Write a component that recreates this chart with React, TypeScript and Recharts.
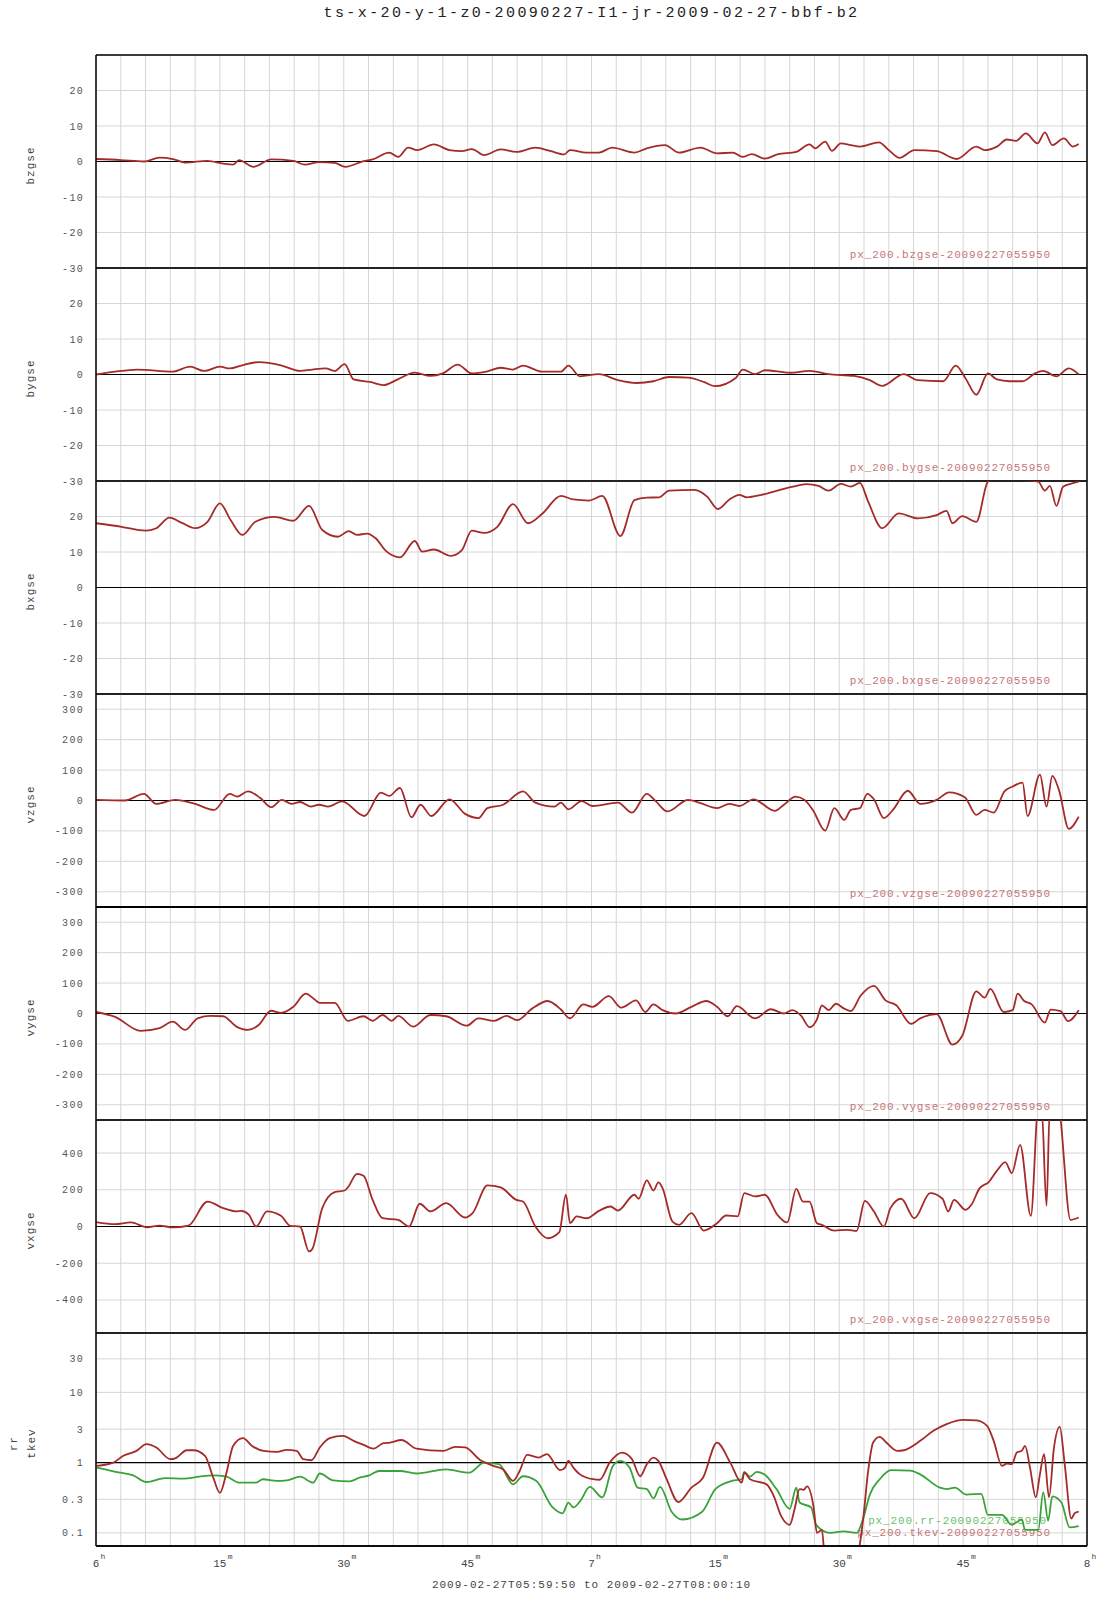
import React from 'react';
import { LineChart, Line, XAxis, YAxis, CartesianGrid, ReferenceLine } from 'recharts';

const MONO = '"Liberation Mono", "DejaVu Sans Mono", monospace';
const RED = '#a52a2a';
const GREEN = '#3aa23a';
const RED_TEXT = '#c47676';
const GREEN_TEXT = '#6cc06c';

const TITLE = 'ts-x-20-y-1-z0-20090227-I1-jr-2009-02-27-bbf-b2';
const CAPTION = '2009-02-27T05:59:50 to 2009-02-27T08:00:10';

// minutes after 06:00
const timeTicks = [0, 15, 30, 45, 60, 75, 90, 105, 120];
const timeTickLabels = ['6', '15', '30', '45', '7', '15', '30', '45', '8'];
const timeTickUnits = ['h', 'm', 'm', 'm', 'h', 'm', 'm', 'm', 'h'];
const gridMinutes = Array.from({ length: 41 }, (_, i) => i * 3);

const bTicks = [-30, -20, -10, 0, 10, 20];
const vTicks = [-300, -200, -100, 0, 100, 200, 300];
const vxTicks = [-400, -200, 0, 200, 400];
const logTicks = [0.1, 0.3, 1, 3, 10, 30];

const bzgse: [number, number][] = [
  [0, 0.7], [3, 0.4], [5.8, 0], [7.7, 1.1], [9.3, 0.7], [10.8, -0.3], [13.5, 0.2], [15.4, -0.6], [16.6, -0.9],
  [17.3, 0.4], [19.1, -1.5], [21.2, 0.6], [23.9, 0.2], [25.3, -0.9], [27, -0.2], [28.9, -0.4], [30.2, -1.5],
  [32.4, 0.1], [33.5, 0.6], [35.5, 2.5], [36.6, 1.3], [37.8, 3.9], [38.9, 3.2], [40.9, 4.8], [42.8, 3.2],
  [44.3, 2.9], [45.5, 3.5], [47, 1.8], [49, 3.4], [50.9, 2.7], [53.2, 3.9], [55.1, 2.9], [56.7, 2], [57.4, 3.2],
  [59.4, 2.5], [60.9, 2.5], [62.5, 3.9], [65.2, 2.5], [66.7, 3.7], [68.9, 4.6], [70.6, 2.5], [73.2, 3.9],
  [75.2, 2.3], [77.1, 2.5], [78.3, 1.3], [79.4, 2.1], [81, 0.8], [82.5, 2], [84.8, 2.7], [86.4, 4.8], [87.1, 3.7],
  [88.3, 5.6], [89.1, 3], [90.2, 5.1], [91.4, 4.6], [92.5, 4.2], [94.8, 5.4], [96, 3.2], [97.3, 1], [99.1, 3.2],
  [101.8, 2.9], [104.2, 0.7], [106.6, 4.2], [107.6, 3.2], [109.1, 4.2], [110.3, 6.2], [111.4, 5.8], [112.6, 7.9],
  [114, 5.1], [114.9, 8.2], [115.8, 4.6], [117.2, 6.5], [118.3, 4.2], [119, 4.9],
];

const bygse: [number, number][] = [
  [0, 0], [2.3, 0.8], [5, 1.4], [9.3, 0.8], [11.4, 2.2], [13.1, 1], [15, 2.2], [16.2, 1.7], [17.7, 2.6],
  [19.7, 3.5], [22.4, 2.6], [24.7, 1], [26.2, 1.4], [27.8, 1.7], [28.9, 1], [30.1, 2.9], [31.2, -1.4],
  [33.2, -2.1], [34.8, -3], [36.6, -1.3], [38.6, 0.5], [40.5, -0.4], [42, 0.3], [43.8, 2.8], [45.5, 0.3],
  [47.4, 0.9], [49, 1.9], [50.5, 1.4], [51.7, 2.5], [54, 0.8], [56.3, 0.8], [57.2, 2.5], [58.6, -0.5],
  [60.9, 0.1], [63.2, -1.6], [65.5, -2.4], [67.5, -1.9], [69.4, -0.7], [71.7, -0.9], [73.6, -2.1], [74.9, -3.3],
  [77.5, -0.9], [78.3, 1.4], [79.8, 0.1], [81, 1.2], [84, 0.5], [86.4, 1], [88.7, 0.1], [91.8, -0.4],
  [93.7, -1.6], [95.2, -3.2], [97.8, 0.1], [99.5, -1.6], [102.6, -1.9], [104.1, 2.5], [105.3, -1.1],
  [106.6, -5.7], [108, 0.3], [109.1, -1.4], [110.6, -1.9], [112.2, -1.9], [113.7, 0.3], [114.7, 1],
  [116.3, -0.5], [117.8, 1.7], [119, 0],
];

const bxgse: [number, number][] = [
  [0, 18.1], [3.1, 17.1], [6, 16], [7.3, 16.7], [8.9, 19.7], [10.4, 18.2], [12, 16.7], [13.5, 18.5], [15, 23.7],
  [16.3, 19], [17.7, 14.8], [19.3, 18.5], [21.6, 19.9], [23.9, 18.8], [25.8, 23], [27.4, 16.2], [29.3, 14.3],
  [30.6, 15.9], [31.6, 14.8], [32.8, 15.2], [33.9, 13.8], [35.1, 10.3], [36.8, 8.5], [38.6, 13.1], [39.5, 10.1],
  [40.9, 10.7], [43, 8.9], [44.3, 10.5], [45.5, 16], [47, 15.4], [48.6, 17.1], [50.5, 23.5], [52.3, 18.1],
  [54, 20.7], [56.3, 25.8], [57.8, 24.8], [59.7, 24.5], [61.3, 25.8], [63.5, 14.5], [65.2, 24.6], [66.7, 25.3],
  [68.2, 25.4], [69.4, 27.3], [72.5, 27.5], [74, 25.6], [75.3, 22.1], [76.7, 24.8], [77.9, 26.1], [78.8, 25.4],
  [80.6, 26.1], [82.5, 27.3], [84.4, 28.4], [86, 29.1], [87.5, 28.6], [88.7, 27.3], [90.2, 29.2], [91.4, 28.4],
  [92.5, 29.5], [93.5, 24.2], [95.2, 16.7], [97.2, 20.9], [99.5, 19.5], [101.8, 20.4], [103, 21.6],
  [103.7, 18.1], [104.9, 20.1], [106.6, 18.5], [108, 29.8], [108.7, 30.5], [112.6, 30.2], [114.1, 29.8],
  [114.9, 27.3], [115.5, 28.6], [116.3, 23], [117.1, 28.4], [118.3, 29.4], [119, 29.8],
];

const vzgse: [number, number][] = [
  [0, 2], [3.5, 0], [5.8, 22], [7.3, -11], [9.6, 2], [12, -11], [14.3, -31], [16.2, 22], [17.1, 13], [18.4, 30],
  [19.9, 8], [21.2, -22], [22.5, 2], [23.7, -11], [24.7, -5], [26, -20], [27, -14], [28.1, -20], [29.8, -3],
  [32.5, -51], [34.5, 26], [35.5, 15], [36.8, 41], [38.2, -55], [39.3, -14], [40.6, -51], [42.8, 4], [44.7, -44],
  [46.3, -58], [47.4, -25], [49.3, -14], [51.7, 30], [53.2, -7], [55.5, -20], [56.3, -7], [57.2, -29], [58.8, -2],
  [60.1, -18], [63.2, -7], [64.9, -40], [66.7, 22], [67.8, -3], [69.2, -36], [71.7, 2], [73.2, -9], [75.2, -25],
  [76.7, -11], [77.9, -18], [79.6, 4], [82.2, -34], [83.3, -14], [84.7, 13], [85.8, 2], [86.8, -31], [88.3, -99],
  [89.4, -25], [90.6, -64], [91.4, -31], [92.5, -25], [93.4, 22], [94.2, 4], [95.4, -58], [96.5, -31],
  [98.3, 32], [99.8, -11], [101.8, 2], [103.3, 27], [105.2, 11], [106.6, -47], [107.6, -31], [108.7, -40],
  [110, 30], [111, 46], [112.2, 59], [112.8, -51], [114.3, 85], [115.1, -20], [115.8, 81], [116.6, 35],
  [117.8, -93], [119, -53],
];

const vygse: [number, number][] = [
  [0, 5], [2.3, -11], [5.4, -57], [7.7, -48], [9.3, -27], [10.8, -54], [12.3, -16], [13.9, -8], [15.4, -9],
  [17, -43], [18.4, -54], [19.7, -38], [21.2, 9], [22.4, 2], [23.9, 22], [25.4, 65], [26.4, 48], [27.1, 35],
  [28.9, 35], [30.5, -24], [32.4, -9], [33.5, -24], [34.7, -5], [35.8, -24], [36.6, -8], [38.4, -43], [40.5, -5],
  [42.4, -9], [44.9, -40], [46.3, -16], [48.2, -24], [49.7, -8], [51, -22], [52.8, 16], [54.7, 41], [56.3, 13],
  [57.4, -16], [59, 30], [60.1, 22], [62.1, 57], [63.6, 19], [65.4, 43], [66.5, 5], [67.5, 30], [68.6, 11],
  [70.2, 0], [72.1, 22], [73.9, 41], [75.2, 22], [76.5, -9], [77.6, 24], [79.8, -16], [81.7, 14], [83.3, 0],
  [84.3, 11], [85.4, -8], [86.4, -45], [87.3, -19], [87.9, 27], [88.7, 11], [89.6, 32], [90.6, 16], [91.4, 8],
  [92.6, 59], [94.2, 91], [95.6, 43], [96.9, 27], [98.7, -34], [99.8, -16], [101.8, -2], [103.7, -102],
  [104.9, -73], [106.6, 73], [107.6, 52], [108.3, 81], [109.9, 5], [111, 11], [111.6, 65], [112.4, 41],
  [113.3, 30], [114.9, -30], [115.6, 13], [116.8, 8], [117.7, -25], [119, 11],
];

const vxgse: [number, number][] = [
  [0, 24], [2.3, 13], [4.2, 22], [6.2, -4], [7.7, 5], [9.3, -5], [11.2, 5], [13.5, 136], [15.4, 100], [17, 82],
  [17.6, 85], [18.5, 64], [19.4, 0], [20.7, 82], [22.4, 58], [23.5, 4], [24.7, 0], [25.8, -136], [26.2, -122],
  [27.4, 100], [28.9, 187], [30.1, 196], [30.5, 213], [31.6, 287], [32.4, 276], [33.5, 145], [34.7, 45],
  [36.6, 36], [37.9, 0], [39.2, 124], [40.5, 82], [42.4, 127], [44.7, 49], [45.6, 73], [47.4, 224], [49, 213],
  [50.9, 145], [51.7, 136], [53.2, 0], [54.7, -64], [56.1, -31], [56.9, 173], [57.4, 18], [58.2, 55],
  [59.4, 45], [60.9, 85], [62.3, 109], [63.2, 87], [65.2, 173], [65.7, 151], [66.7, 251], [67.5, 196],
  [68.1, 240], [68.6, 209], [69.8, 27], [70.6, 9], [72.1, 73], [73.6, -22], [75.2, 18], [76.3, 60], [77.7, 55],
  [78.5, 182], [79.8, 164], [81, 173], [82.5, 64], [83.7, 22], [84.8, 205], [85.6, 136], [86.4, 136],
  [87.3, 18], [87.9, 9], [89.4, -22], [91, -18], [92.1, -24], [93.1, 140], [94.2, 82], [95.4, 0], [96.2, 100],
  [97.5, 151], [99.1, 45], [101, 182], [102.5, 151], [103.2, 82], [103.9, 145], [105.3, 91], [106, 118],
  [107, 209], [108.1, 242], [109.1, 304], [110.1, 351], [110.9, 291], [111.9, 445], [113.2, 58], [114.1, 650],
  [114.5, 650], [115.1, 113], [115.5, 650], [116.5, 650], [118, 36], [119, 49],
];

const rr: [number, number][] = [
  [0.1, 0.85], [2.9, 0.72], [4.5, 0.66], [6.1, 0.53], [8.4, 0.6], [10.5, 0.59], [12.5, 0.63], [14.1, 0.66],
  [15.8, 0.63], [17.3, 0.52], [19.4, 0.52], [20.2, 0.58], [21.9, 0.55], [23.1, 0.56], [24.7, 0.63], [26.3, 0.52],
  [27.1, 0.7], [28.7, 0.56], [30.7, 0.54], [31.9, 0.61], [33.1, 0.66], [34.3, 0.76], [36.8, 0.76], [38.8, 0.7],
  [42.4, 0.8], [45.2, 0.72], [47, 1.0], [48.8, 0.95], [50.5, 0.49], [51.7, 0.64], [53.3, 0.55], [55.3, 0.23],
  [56.5, 0.19], [57.2, 0.27], [57.8, 0.23], [58.6, 0.28], [59.8, 0.45], [61.3, 0.32], [62.6, 0.9], [63.5, 1.06],
  [64.6, 0.85], [65.6, 0.44], [66.7, 0.42], [67.5, 0.31], [68.3, 0.45], [69.7, 0.2], [71, 0.155], [73.4, 0.2],
  [75, 0.42], [77, 0.55], [78.2, 0.58], [78.5, 0.74], [79.2, 0.63], [80, 0.74], [81, 0.67], [82.4, 0.42],
  [84, 0.22], [84.8, 0.44], [85.2, 0.27], [86.6, 0.23], [87.2, 0.13], [88.9, 0.1], [90.5, 0.105], [92.1, 0.1],
  [92.9, 0.16], [93.7, 0.35], [94.9, 0.58], [96.3, 0.78], [98.6, 0.77], [99.8, 0.68], [102.2, 0.44], [103, 0.42],
  [104, 0.44], [105.4, 0.35], [107.2, 0.36], [108, 0.18], [109.7, 0.18], [110.9, 0.13], [112.1, 0.155],
  [112.5, 0.11], [114.1, 0.11], [114.7, 0.38], [115.3, 0.15], [115.8, 0.33], [116.9, 0.27], [117.9, 0.12],
  [119, 0.125],
];

const tkev: [number, number][] = [
  [0.1, 0.9], [2.1, 1.0], [3.3, 1.25], [4.9, 1.47], [6.1, 1.83], [7.3, 1.64], [9, 1.12], [9.6, 1.15], [11, 1.5],
  [11.8, 1.5], [13.2, 1.25], [14.2, 0.61], [15, 0.37], [15.8, 0.72], [16.6, 1.73], [17.8, 2.23], [18.9, 1.73],
  [20.3, 1.47], [21.9, 1.42], [23.1, 1.52], [24.3, 1.47], [25.1, 1.12], [26.1, 1.08], [27.1, 1.64], [28.3, 2.23],
  [29.9, 2.4], [31.2, 2.04], [32.4, 1.79], [33.6, 1.58], [34.8, 1.89], [35.6, 1.93], [37, 2.1], [38.8, 1.58],
  [42.1, 1.47], [43.5, 1.68], [44.7, 1.65], [46.5, 1.09], [48.1, 0.9], [49.3, 0.8], [50.5, 0.55], [51.3, 0.76],
  [52.2, 1.29], [53.6, 1.18], [54.6, 1.32], [56.2, 0.78], [56.8, 0.85], [57.2, 1.06], [57.8, 0.85], [58.6, 0.68],
  [60.2, 0.58], [61, 0.57], [62.2, 1.0], [63.7, 1.39], [64.9, 1.12], [65.9, 0.64], [66.7, 0.95], [67.5, 1.18],
  [68.1, 1.06], [69.1, 0.58], [70.5, 0.275], [72.1, 0.44], [73.5, 0.61], [75.2, 1.93], [76.8, 1.0], [78.2, 0.52],
  [78.5, 0.72], [79.2, 0.58], [81.2, 0.49], [82, 0.35], [83, 0.17], [84, 0.13], [84.6, 0.22], [85.2, 0.42],
  [85.7, 0.41], [86.1, 0.46], [86.9, 0.23], [87.3, 0.1], [87.9, 0.11], [88.3, 0.04], [92, 0.04], [92.9, 0.16],
  [93.5, 0.76], [94.1, 1.93], [94.9, 2.33], [95.7, 1.93], [97, 1.47], [97.8, 1.5], [99.8, 2.04], [101.4, 2.84],
  [103, 3.54], [105, 4.07], [106.6, 4.0], [107.9, 3.34], [108.7, 2.04], [109.7, 0.9], [110.3, 0.97],
  [110.9, 0.95], [111.5, 1.39], [112.1, 1.47], [112.5, 1.73], [113.1, 0.85], [113.8, 0.32], [114.3, 0.68],
  [114.8, 1.32], [115.4, 0.32], [116, 1.64], [116.7, 3.23], [117.3, 0.95], [118.1, 0.16], [118.5, 0.19],
  [119, 0.2],
];

const PANEL_TOP = 55;
const PANEL_H = 213;
const PAD = 12;
const WIDTH = 1107;
const AXIS_W = 96;
const RIGHT = 20;
const XAXIS_H = 46;

type Series = { name: string; data: [number, number][]; color: string; textColor: string };
type PanelDef = {
  axis: string[];
  domain: [number, number];
  ticks: number[];
  zero: number;
  log?: boolean;
  series: Series[];
};

const src = (name: string) => `px_200.${name}-20090227055950`;

const panels: PanelDef[] = [
  { axis: ['bzgse'], domain: [-30, 30], ticks: bTicks, zero: 0, series: [{ name: src('bzgse'), data: bzgse, color: RED, textColor: RED_TEXT }] },
  { axis: ['bygse'], domain: [-30, 30], ticks: bTicks, zero: 0, series: [{ name: src('bygse'), data: bygse, color: RED, textColor: RED_TEXT }] },
  { axis: ['bxgse'], domain: [-30, 30], ticks: bTicks, zero: 0, series: [{ name: src('bxgse'), data: bxgse, color: RED, textColor: RED_TEXT }] },
  { axis: ['vzgse'], domain: [-350, 350], ticks: vTicks, zero: 0, series: [{ name: src('vzgse'), data: vzgse, color: RED, textColor: RED_TEXT }] },
  { axis: ['vygse'], domain: [-350, 350], ticks: vTicks, zero: 0, series: [{ name: src('vygse'), data: vygse, color: RED, textColor: RED_TEXT }] },
  { axis: ['vxgse'], domain: [-580, 580], ticks: vxTicks, zero: 0, series: [{ name: src('vxgse'), data: vxgse, color: RED, textColor: RED_TEXT }] },
  {
    axis: ['rr', 'tkev'],
    domain: [0.065, 70],
    ticks: logTicks,
    zero: 1,
    log: true,
    series: [
      { name: src('rr'), data: rr, color: GREEN, textColor: GREEN_TEXT },
      { name: src('tkev'), data: tkev, color: RED, textColor: RED_TEXT },
    ],
  },
];

const toPoints = (arr: [number, number][]) => arr.map(([t, v]) => ({ t, v }));

const YTick = (props: any) => {
  const { x, y, payload } = props;
  return (
    <text x={x} y={y} dy={3.5} textAnchor="end" fontFamily={MONO} fontSize={10} fill="#555" style={{ letterSpacing: '1.3px' }}>
      {payload.value}
    </text>
  );
};

const TimeTick = (props: any) => {
  const { x, y, payload } = props;
  const i = timeTicks.indexOf(payload.value);
  if (i < 0) return null;
  const label = timeTickLabels[i];
  return (
    <g>
      <text x={x} y={y + 19} textAnchor="middle" fontFamily={MONO} fontSize={11} fill="#444">
        {label}
      </text>
      <text x={x + label.length * 3.4 + 1} y={y + 11} fontFamily={MONO} fontSize={8} fill="#444">
        {timeTickUnits[i]}
      </text>
    </g>
  );
};

function Panel({ def, index }: { def: PanelDef; index: number }) {
  const last = index === panels.length - 1;
  const top = PANEL_TOP + index * PANEL_H - PAD;
  const height = last ? PAD + PANEL_H + XAXIS_H : PANEL_H + 2 * PAD;
  const lines = def.series;

  return (
    <div style={{ position: 'absolute', left: 0, top }}>
      <LineChart
        width={WIDTH}
        height={height}
        margin={{ top: PAD, right: RIGHT, bottom: last ? 0 : PAD, left: 0 }}
      >
        <CartesianGrid stroke="#d6d6d6" strokeWidth={1} verticalValues={gridMinutes} />
        <XAxis
          type="number"
          dataKey="t"
          domain={[0, 120]}
          ticks={timeTicks}
          interval={0}
          allowDataOverflow
          hide={!last}
          height={XAXIS_H}
          tickLine={false}
          tickSize={0}
          axisLine={{ stroke: '#000', strokeWidth: 1.5 }}
          tick={<TimeTick />}
          label={(p: any) => {
            const vb = p.viewBox;
            return (
              <text x={vb.x + vb.width / 2} y={vb.y + 42} textAnchor="middle" fontFamily={MONO} fontSize={11} fill="#444" style={{ letterSpacing: '1px' }}>
                {CAPTION}
              </text>
            );
          }}
        />
        <YAxis
          type="number"
          width={AXIS_W}
          domain={def.domain}
          scale={def.log ? 'log' : 'auto'}
          ticks={def.ticks}
          interval={0}
          allowDataOverflow
          tickLine={false}
          tickSize={0}
          tickMargin={12}
          tick={<YTick />}
          axisLine={{ stroke: '#000', strokeWidth: 1.5 }}
          label={(p: any) => {
            const vb = p.viewBox;
            const cy = vb.y + vb.height / 2 + 4;
            const n = def.axis.length;
            return (
              <g>
                {def.axis.map((name, k) => {
                  const cx = n === 1 ? 30 : 13 + k * 18;
                  return (
                    <text
                      key={name}
                      x={cx}
                      y={cy}
                      transform={`rotate(-90 ${cx} ${cy})`}
                      textAnchor="middle"
                      dy={4}
                      fontFamily={MONO}
                      fontSize={11}
                      fill="#444"
                      style={{ letterSpacing: '1px' }}
                    >
                      {name}
                    </text>
                  );
                })}
              </g>
            );
          }}
        />
        <ReferenceLine y={def.zero} stroke="#000" strokeWidth={1.2} />
        <ReferenceLine y={def.domain[1]} stroke="#000" strokeWidth={index === 4 ? 2.2 : 1.5} ifOverflow="visible" />
        <ReferenceLine x={120} stroke="#000" strokeWidth={1.5} ifOverflow="visible" />
        <ReferenceLine
          y={def.domain[0]}
          stroke="#000"
          strokeWidth={index === 3 ? 2.2 : 1.5}
          ifOverflow="visible"
          label={(p: any) => {
            const vb = p.viewBox;
            const right = vb.x + vb.width - 36;
            return (
              <g>
                {lines.map((s, k) => (
                  <text
                    key={s.name}
                    x={right - (lines.length > 1 && k === 0 ? 4 : 0)}
                    y={vb.y - 10 - (lines.length - 1 - k) * 12}
                    textAnchor="end"
                    fontFamily={MONO}
                    fontSize={11}
                    fill={s.textColor}
                    style={{ letterSpacing: '0.85px' }}
                  >
                    {s.name}
                  </text>
                ))}
              </g>
            );
          }}
        />
        {lines.map((s) => (
          <Line
            key={s.name}
            data={toPoints(s.data)}
            dataKey="v"
            name={s.name}
            type="monotone"
            stroke={s.color}
            strokeWidth={1.8}
            dot={false}
            activeDot={false}
            isAnimationActive={false}
          />
        ))}
      </LineChart>
    </div>
  );
}

export default function App() {
  return (
    <div style={{ position: 'absolute', left: 0, top: 0, width: WIDTH, height: 1600, background: '#fff' }}>
      <div
        style={{
          position: 'absolute',
          left: AXIS_W,
          width: WIDTH - AXIS_W - RIGHT,
          top: 5,
          textAlign: 'center',
          fontFamily: MONO,
          fontSize: 15,
          letterSpacing: '2.4px',
          color: '#222',
        }}
      >
        {TITLE}
      </div>
      {panels.map((def, i) => (
        <Panel key={i} def={def} index={i} />
      ))}
    </div>
  );
}
